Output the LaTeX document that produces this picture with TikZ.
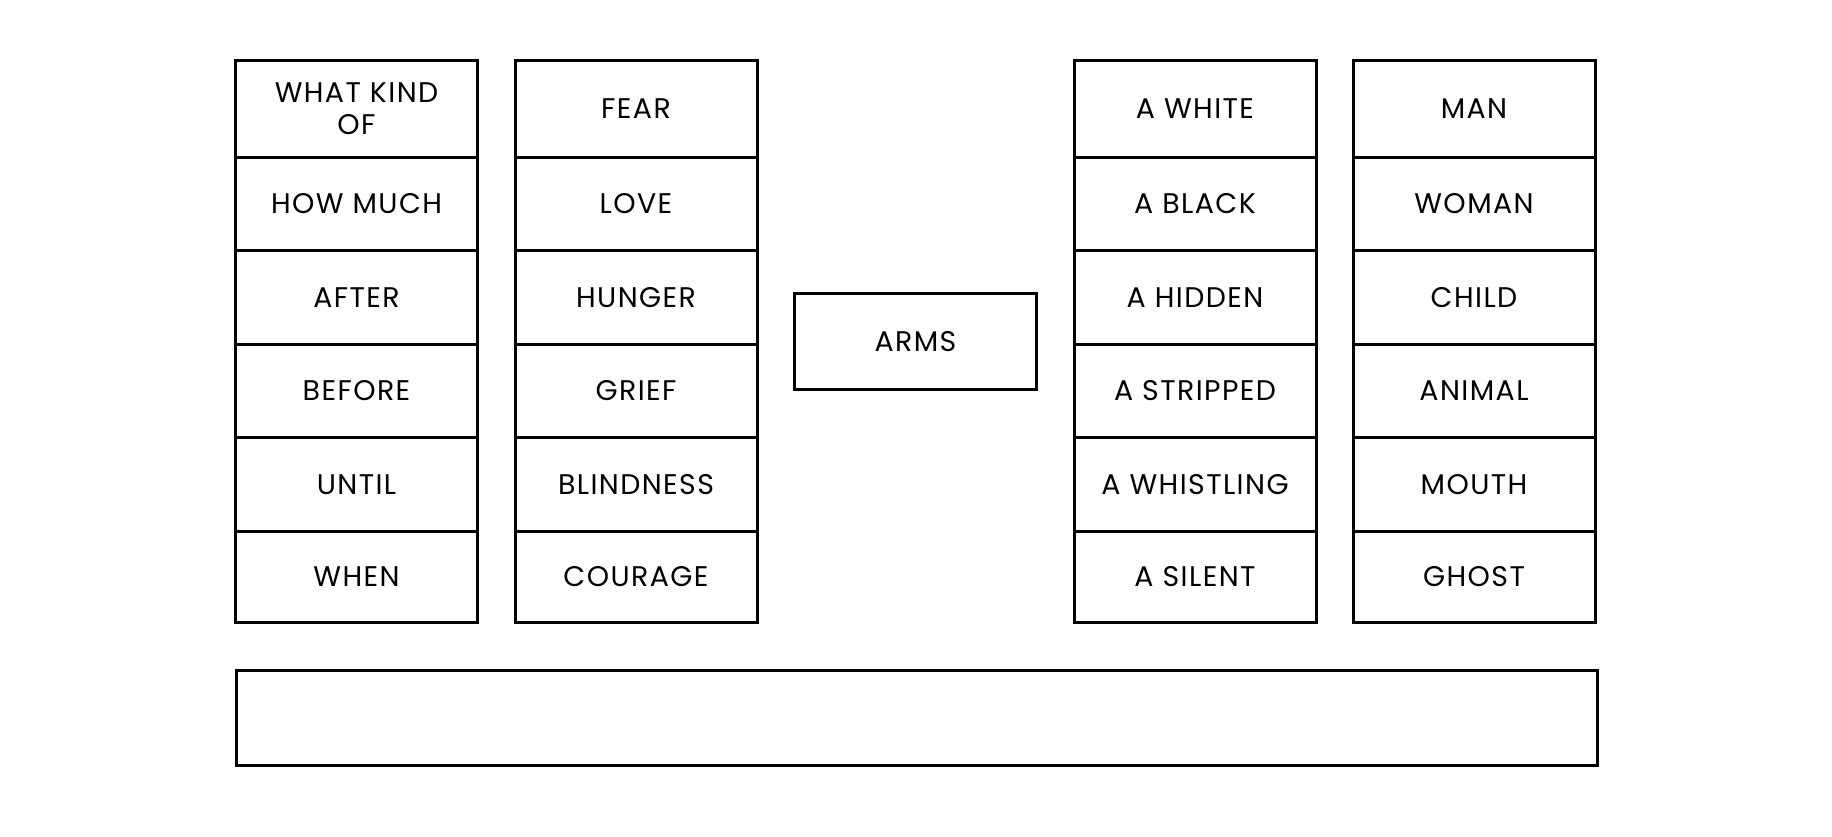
\documentclass[tikz,border=0pt]{standalone}
\usepackage{fontspec}
\setmainfont{Poppins}[LetterSpace=5]
\begin{document}
\begin{tikzpicture}[x=0.5pt,y=-0.5pt]
\tikzset{
  cell/.style={draw=black, line width=1.5pt, minimum width=121pt, inner sep=0pt,
    align=center, anchor=north west, font=\fontsize{14.2}{16.4}\selectfont},
  r1/.style={minimum height=48.5pt},
  r2/.style={minimum height=46.7pt},
  r3/.style={minimum height=46.75pt},
  r4/.style={minimum height=46.75pt},
  r5/.style={minimum height=46.75pt},
  r6/.style={minimum height=45.55pt}
}
\useasboundingbox (0,0) rectangle (1832,836);
% column 1
\node[cell,r1] (a1) at (234,58.6) {WHAT KIND\\OF};
\node[cell,r2] (a2) at (234,155.6) {HOW MUCH};
\node[cell,r3] (a3) at (234,249.0) {AFTER};
\node[cell,r4] (a4) at (234,342.5) {BEFORE};
\node[cell,r5] (a5) at (234,436.0) {UNTIL};
\node[cell,r6] (a6) at (234,529.5) {WHEN};
% column 2
\node[cell,r1] (b1) at (513.5,58.6) {FEAR};
\node[cell,r2] (b2) at (513.5,155.6) {LOVE};
\node[cell,r3] (b3) at (513.5,249.0) {HUNGER};
\node[cell,r4] (b4) at (513.5,342.5) {GRIEF};
\node[cell,r5] (b5) at (513.5,436.0) {BLINDNESS};
\node[cell,r6] (b6) at (513.5,529.5) {COURAGE};
% middle
\node[cell,minimum height=47.9pt] (arms) at (793,292.3) {ARMS};
% column 3
\node[cell,r1] (c1) at (1072.5,58.6) {A WHITE};
\node[cell,r2] (c2) at (1072.5,155.6) {A BLACK};
\node[cell,r3] (c3) at (1072.5,249.0) {A HIDDEN};
\node[cell,r4] (c4) at (1072.5,342.5) {A STRIPPED};
\node[cell,r5] (c5) at (1072.5,436.0) {A WHISTLING};
\node[cell,r6] (c6) at (1072.5,529.5) {A SILENT};
% column 4
\node[cell,r1] (d1) at (1351.5,58.6) {MAN};
\node[cell,r2] (d2) at (1351.5,155.6) {WOMAN};
\node[cell,r3] (d3) at (1351.5,249.0) {CHILD};
\node[cell,r4] (d4) at (1351.5,342.5) {ANIMAL};
\node[cell,r5] (d5) at (1351.5,436.0) {MOUTH};
\node[cell,r6] (d6) at (1351.5,529.5) {GHOST};
% bottom box
\node[cell,minimum width=680.6pt,minimum height=47.9pt] (bottom) at (234.5,668.5) {};
\end{tikzpicture}
\end{document}
